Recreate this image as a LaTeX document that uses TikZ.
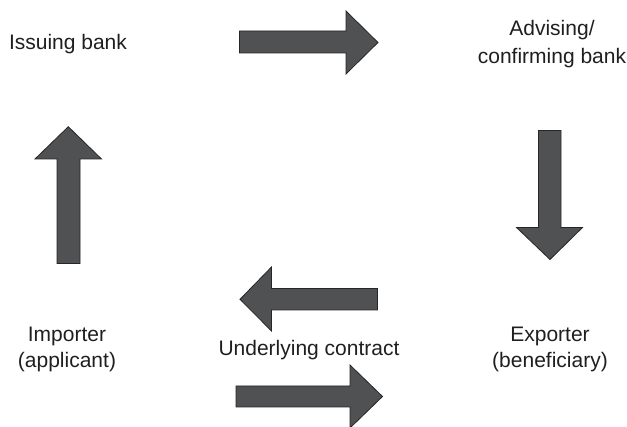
\documentclass[tikz,border=0pt]{standalone}
\usepackage{fontspec}
\setmainfont{Liberation Sans}
\begin{document}
\begin{tikzpicture}[x=1pt,y=-1pt,
  blockarrow/.style={fill=arrowgray,draw=arrowedge,line width=0.8pt,line join=miter},
  label/.style={font=\fontsize{21}{27}\selectfont,text=black!88,align=center,inner sep=0pt}]
\definecolor{arrowgray}{HTML}{505153}
\definecolor{arrowedge}{HTML}{262626}
\useasboundingbox (0,0) rectangle (627,427);
\clip (0,0) rectangle (627,427);

% issuing bank -> advising bank
\path[blockarrow] (239.5,31) -- (346,31) -- (346,11) -- (378,42.5) -- (346,74)
  -- (346,53) -- (239.5,53) -- cycle;
% advising bank -> exporter
\path[blockarrow] (538.5,130.5) -- (561,130.5) -- (561,227.5) -- (582.5,227.5)
  -- (550,259.5) -- (516.5,227.5) -- (538.5,227.5) -- cycle;
% exporter -> importer (upper contract arrow)
\path[blockarrow] (377.5,288.5) -- (271.5,288.5) -- (271.5,267) -- (240,299.3)
  -- (271.5,331) -- (271.5,310) -- (377.5,310) -- cycle;
% importer -> exporter (lower contract arrow)
\path[blockarrow] (236,386) -- (350,386) -- (350,365) -- (382.5,396.5)
  -- (350,428) -- (350,407) -- (236,407) -- cycle;
% importer -> issuing bank
\path[blockarrow] (57,263.5) -- (57,159) -- (35,159) -- (68.3,126.7) -- (101.5,159)
  -- (80,159) -- (80,263.5) -- cycle;

% multi-line labels are placed by the baseline of their last line
\node[label,anchor=base] (issuing) at (68,49.5) {Issuing bank};
\node[label,anchor=base,font=\fontsize{21}{28}\selectfont] (advising) at (552,63.3) {Advising/\\confirming bank};
\node[label,anchor=base,font=\fontsize{21}{26}\selectfont] (importer) at (67,368) {Importer\\(applicant)};
\node[label,anchor=base,font=\fontsize{21}{26}\selectfont] (exporter) at (550,368) {Exporter\\(beneficiary)};
\node[label,anchor=base] (contract) at (309,355.5) {Underlying contract};
\end{tikzpicture}
\end{document}
